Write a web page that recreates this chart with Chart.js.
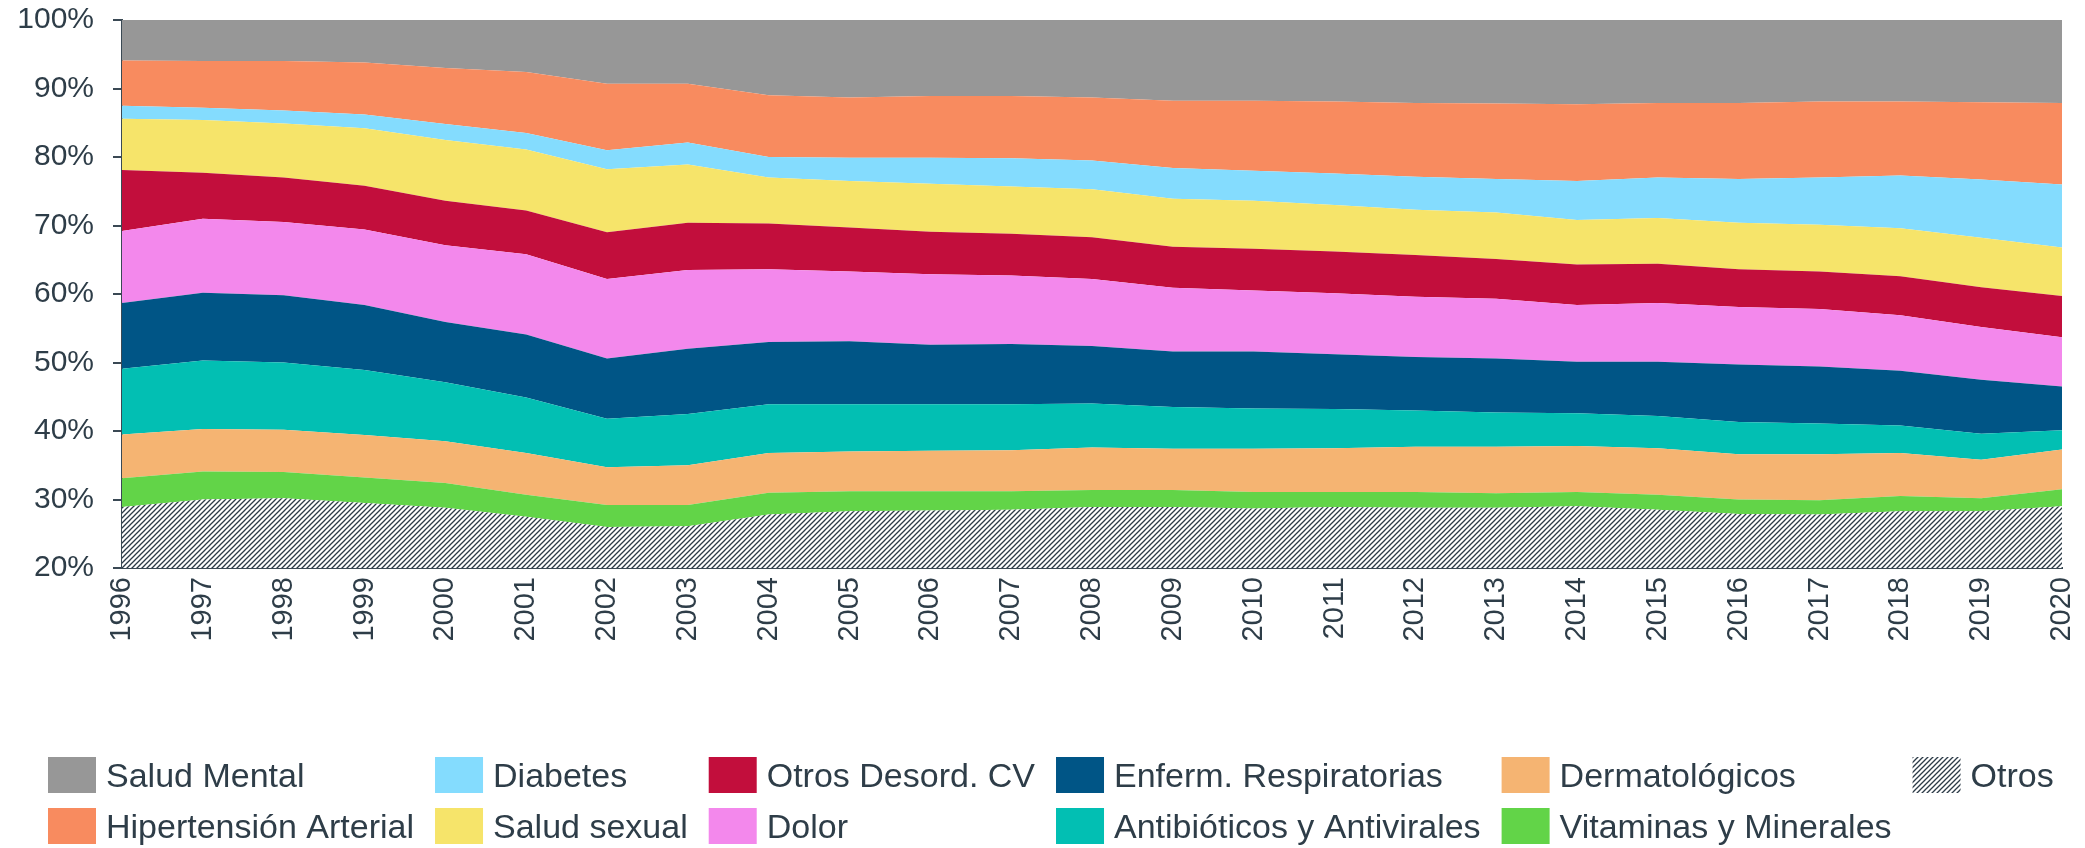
<!DOCTYPE html>
<html>
<head>
<meta charset="utf-8">
<script src="https://cdn.jsdelivr.net/npm/chart.js@4.4.1/dist/chart.umd.min.js"></script>
<style>
  html, body { margin: 0; padding: 0; background: #ffffff; }
  #wrap { width: 2085px; height: 848px; }
</style>
</head>
<body>
<div id="wrap"><canvas id="c" width="2085" height="848"></canvas></div>
<script>
// ---------- DATA ----------
const years = ['1996','1997','1998','1999','2000','2001','2002','2003','2004','2005','2006','2007','2008','2009','2010','2011','2012','2013','2014','2015','2016','2017','2018','2019','2020'];

const otros        = [28.9,30.0,30.2,29.5,28.8,27.5,26.0,26.1,27.8,28.3,28.4,28.5,28.9,28.9,28.7,28.9,28.8,28.8,29.0,28.5,27.9,27.8,28.3,28.3,29.0];
const vitaminas    = [4.2,4.1,3.8,3.7,3.6,3.2,3.2,3.1,3.2,2.9,2.8,2.7,2.5,2.5,2.4,2.2,2.3,2.1,2.1,2.2,2.1,2.1,2.2,1.9,2.5];
const dermato      = [6.4,6.2,6.2,6.2,6.1,6.1,5.5,5.8,5.8,5.8,5.9,6.0,6.2,6.0,6.3,6.4,6.6,6.8,6.7,6.8,6.6,6.7,6.3,5.6,5.8];
const antibioticos = [9.6,10.0,9.8,9.5,8.6,8.1,7.1,7.5,7.1,6.9,6.8,6.7,6.4,6.1,5.9,5.7,5.3,5.0,4.8,4.7,4.7,4.5,4.0,3.8,2.8];
const respiratorias= [9.6,9.9,9.8,9.5,8.8,9.2,8.8,9.5,9.1,9.2,8.7,8.8,8.4,8.1,8.3,8.0,7.8,7.9,7.5,7.9,8.4,8.3,8.0,7.9,6.4];
const dolor        = [10.5,10.8,10.7,11.0,11.2,11.7,11.6,11.5,10.6,10.2,10.3,10.0,9.8,9.3,8.9,8.9,8.8,8.7,8.3,8.6,8.4,8.4,8.1,7.7,7.2];
const otrosCV      = [8.9,6.7,6.5,6.4,6.5,6.4,6.8,6.9,6.7,6.4,6.2,6.1,6.1,6.0,6.1,6.1,6.1,5.8,5.9,5.7,5.5,5.5,5.7,5.8,6.0];
const saludSexual  = [7.5,7.7,7.9,8.4,8.9,8.9,9.2,8.5,6.7,6.8,7.0,6.9,7.0,7.0,7.0,6.8,6.6,6.8,6.5,6.7,6.8,6.8,7.0,7.2,7.1];
const diabetes     = [1.9,1.8,1.9,2.0,2.3,2.4,2.8,3.2,3.0,3.4,3.8,4.1,4.2,4.5,4.4,4.6,4.8,4.9,5.7,5.9,6.4,6.9,7.7,8.5,9.2];
const hipertension = [6.6,6.8,7.2,7.6,8.2,8.9,9.7,8.6,9.0,8.8,9.0,9.1,9.2,9.8,10.2,10.5,10.8,11.0,11.2,10.9,11.1,11.1,10.8,11.3,11.9];
const saludMental  = [5.9,6.0,6.0,6.2,7.0,7.6,9.3,9.3,11.0,11.3,11.1,11.1,11.3,11.8,11.8,11.9,12.1,12.2,12.3,12.1,12.1,11.9,11.9,12.0,12.1];

const yTicks = [20,30,40,50,60,70,80,90,100];

// legend arrangement (column-major, two rows)
const legendColumns = [
  ['Salud Mental','Hipertensión Arterial'],
  ['Diabetes','Salud sexual'],
  ['Otros Desord. CV','Dolor'],
  ['Enferm. Respiratorias','Antibióticos y Antivirales'],
  ['Dermatológicos','Vitaminas y Minerales'],
  ['Otros']
];

// ---------- STYLE ----------
const FONT = "'Liberation Sans', Arial, sans-serif";
const TXT = '#2e3d48';
const AXIS = '#3a4954';

function hatch() {
  const s = 5;
  const c = document.createElement('canvas');
  c.width = s; c.height = s;
  const g = c.getContext('2d');
  g.fillStyle = '#ffffff';
  g.fillRect(0, 0, s, s);
  g.strokeStyle = '#2c3b47';
  g.lineWidth = 1.3;
  g.beginPath();
  g.moveTo(-1, s + 1); g.lineTo(s + 1, -1);
  g.moveTo(-1, 1); g.lineTo(1, -1);
  g.moveTo(s - 1, s + 1); g.lineTo(s + 1, s - 1);
  g.stroke();
  return document.getElementById('c').getContext('2d').createPattern(c, 'repeat');
}
const hatchPattern = hatch();

function ds(label, data, color, fill) {
  return {
    label, data,
    backgroundColor: color,
    borderColor: 'rgba(0,0,0,0)',
    borderWidth: 0,
    pointRadius: 0,
    pointHoverRadius: 0,
    tension: 0,
    fill: fill
  };
}

const datasets = [
  ds('Otros', otros, hatchPattern, 'start'),
  ds('Vitaminas y Minerales', vitaminas, '#62d448', '-1'),
  ds('Dermatológicos', dermato, '#f5b472', '-1'),
  ds('Antibióticos y Antivirales', antibioticos, '#02bfb3', '-1'),
  ds('Enferm. Respiratorias', respiratorias, '#005586', '-1'),
  ds('Dolor', dolor, '#f388ec', '-1'),
  ds('Otros Desord. CV', otrosCV, '#c20e3c', '-1'),
  ds('Salud sexual', saludSexual, '#f6e46a', '-1'),
  ds('Diabetes', diabetes, '#84dcfe', '-1'),
  ds('Hipertensión Arterial', hipertension, '#f88b5f', '-1'),
  ds('Salud Mental', saludMental, '#979797', '-1')
];

const columnLegend = {
  id: 'columnLegend',
  afterDraw(chart) {
    const ctx = chart.ctx;
    const byName = {};
    chart.data.datasets.forEach(d => { byName[d.label] = d; });
    const rowTop = [757, 808];
    const boxW = 48, boxH = 36;
    ctx.save();
    ctx.font = '34px ' + FONT;
    ctx.textBaseline = 'middle';
    ctx.textAlign = 'left';
    let x = 48;
    legendColumns.forEach(col => {
      let w = 0;
      col.forEach((name, r) => {
        const d = byName[name];
        const y = rowTop[r];
        ctx.fillStyle = d.backgroundColor;
        ctx.fillRect(x, y, boxW, boxH);
        ctx.fillStyle = TXT;
        ctx.fillText(name, x + boxW + 10, y + boxH / 2 + 3);
        w = Math.max(w, ctx.measureText(name).width);
      });
      x += boxW + 10 + w + 21;
    });
    ctx.restore();
  }
};

Chart.defaults.font.family = FONT;
Chart.defaults.color = TXT;

new Chart(document.getElementById('c'), {
  type: 'line',
  data: { labels: years, datasets },
  plugins: [columnLegend],
  options: {
    responsive: false,
    animation: false,
    events: [],
    layout: { padding: { top: 20, right: 23, left: 0, bottom: 0 } },
    plugins: {
      legend: { display: false },
      tooltip: { enabled: false },
      filler: { propagate: false }
    },
    elements: { line: { borderWidth: 0 } },
    scales: {
      x: {
        offset: false,
        grid: { display: false, drawTicks: false },
        border: { display: true, color: AXIS, width: 2 },
        ticks: {
          autoSkip: false,
          minRotation: 90,
          maxRotation: 90,
          padding: 9,
          color: TXT,
          font: { size: 29 }
        },
        afterFit(s) { s.height = 280; s.paddingLeft = 0; s.paddingRight = 0; }
      },
      y: {
        stacked: true,
        min: 20,
        max: 100,
        afterBuildTicks(s) { s.ticks = yTicks.map(v => ({ value: v })); },
        grid: {
          drawOnChartArea: false,
          drawTicks: true,
          tickLength: 9,
          color: AXIS,
          lineWidth: 2
        },
        border: { display: true, color: AXIS, width: 2 },
        ticks: {
          padding: 19,
          color: TXT,
          font: { size: 30 },
          callback: v => v + '%'
        },
        afterFit(s) { s.width = 122; s.paddingTop = 0; s.paddingBottom = 0; }
      }
    }
  }
});
</script>
</body>
</html>
